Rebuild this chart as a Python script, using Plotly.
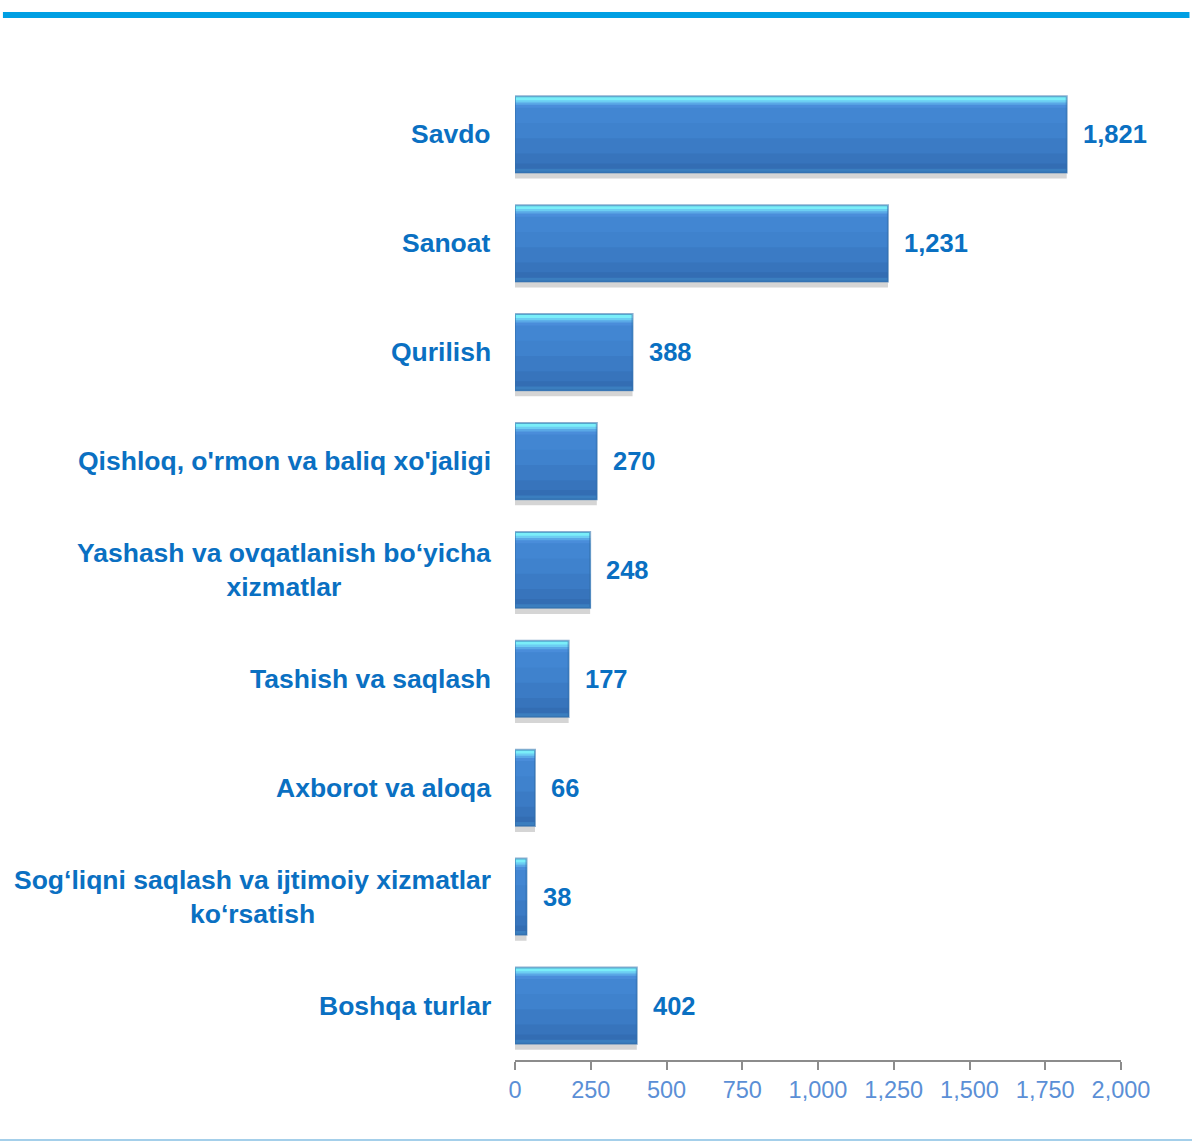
import plotly.graph_objects as go

categories = ["Savdo", "Sanoat", "Qurilish", "Qishloq, o'rmon va baliq xo'jaligi",
              "Yashash va ovqatlanish bo‘yicha<br>xizmatlar", "Tashish va saqlash",
              "Axborot va aloqa", "Sog‘liqni saqlash va ijtimoiy xizmatlar<br>ko‘rsatish",
              "Boshqa turlar"]
values = [1821, 1231, 388, 270, 248, 177, 66, 38, 402]
tick_vals = [0, 250, 500, 750, 1000, 1250, 1500, 1750, 2000]

LABEL_BLUE = "#0A70C2"
TICK_BLUE = "#5B8FD6"
FONT = "Liberation Sans, Arial, sans-serif"

pos = list(range(len(categories)))
W = 0.70
half = W / 2

fig = go.Figure()

# shadow
fig.add_trace(go.Bar(x=values, y=pos, orientation="h", width=W, offset=-half + 0.055,
                     marker=dict(color="rgba(185,185,185,0.6)", line=dict(width=0)),
                     hoverinfo="skip", showlegend=False))

# gradient bands: each drawn from its start fraction to the bottom, later ones cover earlier
bands = [
    (0.00, "#7AEEF9"),
    (0.05, "#6CCDF2"),
    (0.08, "#5AA8E6"),
    (0.11, "#4A8DDA"),
    (0.15, "#4286D2"),
    (0.35, "#3F82CD"),
    (0.55, "#3B7BC5"),
    (0.75, "#3774BC"),
    (0.88, "#336DB3"),
    (0.95, "#3B7EBF"),
]
for f0, col in bands:
    fig.add_trace(go.Bar(x=values, y=pos, orientation="h", width=W * (1 - f0),
                         offset=-half + W * f0,
                         marker=dict(color=col, line=dict(width=0)),
                         hoverinfo="skip", showlegend=False))

# edge outline (bevel rim)
fig.add_trace(go.Bar(x=values, y=pos, orientation="h", width=W, offset=-half,
                     marker=dict(color="rgba(0,0,0,0)", line=dict(width=2, color="rgba(50,110,170,0.55)")),
                     hoverinfo="skip", showlegend=False))

annotations = []
for i, (c, v) in enumerate(zip(categories, values)):
    annotations.append(dict(x=0, xref="paper", y=i, yref="y", text=c, showarrow=False,
                            xanchor="right", yanchor="middle", xshift=-22, align="center",
                            font=dict(family=FONT, size=26.5, color=LABEL_BLUE, weight="bold")))
    annotations.append(dict(x=v, xref="x", y=i, yref="y", text=f"{v:,}", showarrow=False,
                            xanchor="left", yanchor="middle", xshift=14,
                            font=dict(family=FONT, size=25.5, color=LABEL_BLUE, weight="bold")))

fig.update_layout(
    width=1192, height=1142,
    margin=dict(l=515, r=71, t=80, b=82),
    paper_bgcolor="white", plot_bgcolor="white",
    barmode="overlay",
    showlegend=False,
    annotations=annotations,
    xaxis=dict(range=[0, 2000], tickvals=tick_vals, tickformat=",d",
               showgrid=False, zeroline=False, showline=True, linecolor="#8C8C8C", linewidth=2,
               ticks="outside", ticklen=8, tickwidth=2, tickcolor="#8C8C8C",
               tickfont=dict(family=FONT, size=23.5, color=TICK_BLUE), fixedrange=True),
    yaxis=dict(range=[len(categories) - 0.5, -0.5], showticklabels=False, showgrid=False,
               zeroline=False, showline=False, ticks="", fixedrange=True),
    shapes=[
        dict(type="line", xref="paper", yref="paper", x0=-0.845, x1=1.113, y0=1.0663, y1=1.0663,
             line=dict(color="#009FE3", width=6)),
        dict(type="line", xref="paper", yref="paper", x0=-0.85, x1=1.12, y0=-0.0816, y1=-0.0816,
             line=dict(color="#A4CFEA", width=2)),
    ],
)

fig.write_html("out.html", config={"displayModeBar": False},
               post_script="document.body.style.margin='0';document.body.style.padding='0';")
